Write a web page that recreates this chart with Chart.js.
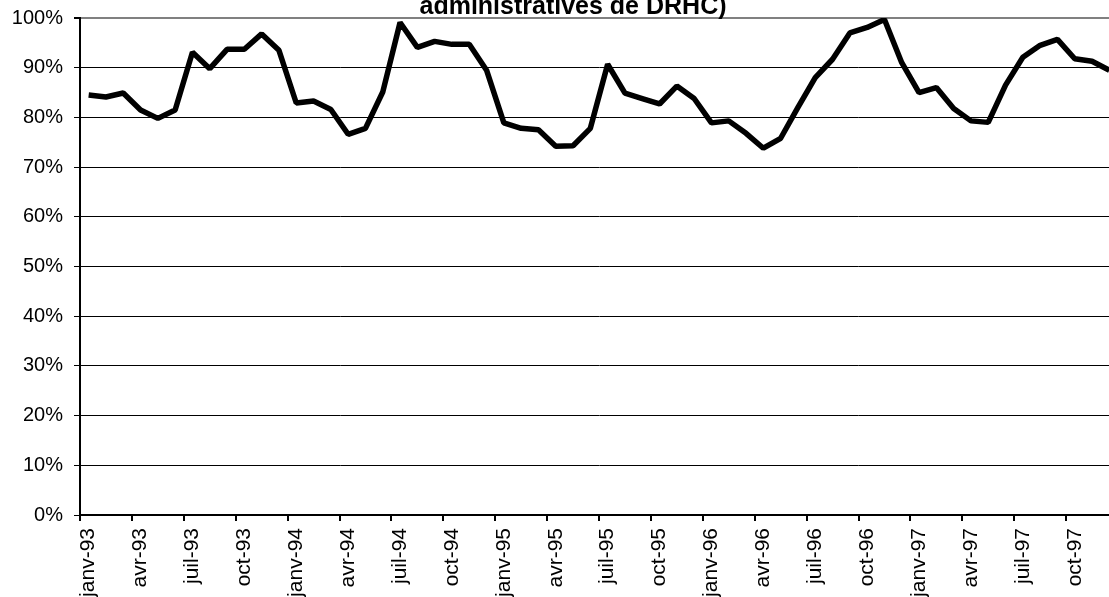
<!DOCTYPE html>
<html>
<head>
<meta charset="utf-8">
<script src="https://cdn.jsdelivr.net/npm/chart.js@4.4.1/dist/chart.umd.min.js"></script>
<style>
  html, body { margin: 0; padding: 0; background: #fff; overflow: hidden; }
  #wrap { position: absolute; left: 0; top: 0; width: 1125px; height: 597px; }
</style>
</head>
<body>
<div id="wrap"><canvas id="data_line" width="1125" height="597"></canvas></div>
<script>
// months janv-93 .. déc-97
const months = ['janv', 'févr', 'mars', 'avr', 'mai', 'juin', 'juil', 'août', 'sept', 'oct', 'nov', 'déc'];
const years = ['93', '94', '95', '96', '97'];
const titleLine = 'administratives de DRHC)';

// taux (%)
const rate93 = [84.5, 84.1, 84.9, 81.5, 79.8, 81.5, 93.1, 89.8, 93.7, 93.7, 96.8, 93.5];
const rate94 = [82.9, 83.3, 81.6, 76.6, 77.8, 85.1, 99.1, 94.1, 95.3, 94.7, 94.7, 89.5];
const rate95 = [78.9, 77.8, 77.5, 74.2, 74.3, 77.8, 90.7, 84.9, 83.8, 82.7, 86.3, 83.8];
const rate96 = [78.9, 79.3, 76.8, 73.8, 75.8, 82.0, 88.0, 91.7, 97.0, 98.1, 99.7, 91.0];
const rate97 = [85.0, 86.0, 81.8, 79.3, 79.0, 86.5, 92.1, 94.5, 95.7, 91.8, 91.3, 89.5];

const yTicks = [0, 10, 20, 30, 40, 50, 60, 70, 80, 90, 100];

var labels = [];
years.forEach(function (y) {
    months.forEach(function (m) { labels.push(m + '-' + y); });
});
var values = [].concat(rate93, rate94, rate95, rate96, rate97).map(function (v) { return v / 100; });

// title sits half out of the picture, drawn by hand
const titlePlugin = {
    id: 'topTitle',
    afterDraw(chart) {
        var ctx = chart.ctx;
        ctx.save();
        ctx.font = 'bold 25px "Liberation Sans", Arial, sans-serif';
        ctx.fillStyle = '#000';
        ctx.textAlign = 'center';
        ctx.textBaseline = 'alphabetic';
        ctx.fillText(titleLine, 573, 14);
        ctx.restore();
    }
};

var ctx = document.getElementById('data_line');
var lineChart = new Chart(ctx, {
    type: 'line',
    data: {
        labels: labels,
        datasets: [{
            data: values,
            borderColor: '#000',
            borderWidth: 5.5,
            borderJoinStyle: 'bevel',
            pointRadius: 0,
            tension: 0,
            fill: false
        }]
    },
    options: {
        responsive: false,
        animation: false,
        devicePixelRatio: 1,
        layout: { padding: { top: 18, right: 7, left: 0, bottom: 0 } },
        plugins: { legend: { display: false }, tooltip: { enabled: false }, title: { display: false } },
        scales: {
            x: {
                offset: true,
                afterFit: function (axis) {
                    axis.height = 82;
                    axis.paddingLeft = 0;
                    axis.paddingRight = 0;
                },
                grid: {
                    offset: true,
                    drawOnChartArea: false,
                    tickLength: 6,
                    lineWidth: 2,
                    color: function (c) { return c.index % 3 === 0 ? '#000' : 'rgba(0,0,0,0)'; }
                },
                border: { color: '#000', width: 2 },
                ticks: {
                    autoSkip: false,
                    minRotation: 90,
                    maxRotation: 90,
                    padding: 7,
                    color: '#000',
                    font: { family: '"Liberation Sans", Arial, sans-serif', size: 21 },
                    callback: function (v, i) { return i % 3 === 0 ? labels[i] : ''; }
                }
            },
            y: {
                min: 0,
                max: 1,
                afterFit: function (axis) {
                    axis.width = 80;
                    axis.paddingTop = 0;
                    axis.paddingBottom = 0;
                },
                afterBuildTicks: function (axis) {
                    axis.ticks = yTicks.map(function (t) { return { value: t / 100 }; });
                },
                grid: {
                    color: function (c) { return c.tick && c.tick.value === 1 ? '#808080' : '#000'; },
                    lineWidth: function (c) { return c.tick && c.tick.value === 1 ? 2 : 1; },
                    tickColor: '#000',
                    tickLength: 6
                },
                border: { color: '#000', width: 2 },
                ticks: {
                    padding: 11,
                    color: '#000',
                    font: { family: '"Liberation Sans", Arial, sans-serif', size: 20 },
                    callback: function (v) { return Math.round(v * 100) + '%'; }
                }
            }
        }
    },
    plugins: [titlePlugin]
});
</script>
</body>
</html>
